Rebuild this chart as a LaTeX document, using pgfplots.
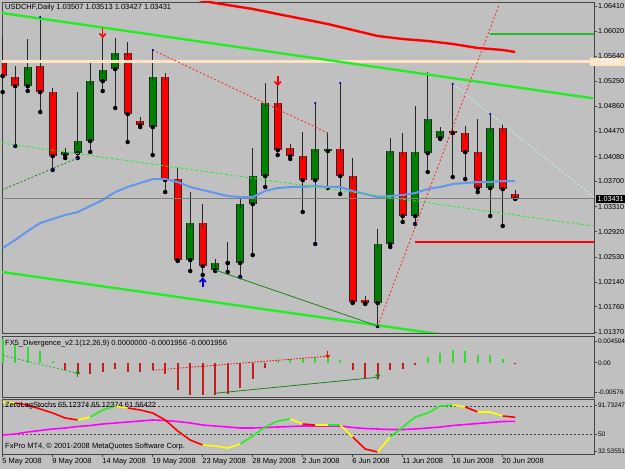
\documentclass[border=0pt]{standalone}
\usepackage{fontspec}
\setmainfont{Liberation Sans}
\usepackage{pgfplots}
\usepackage{pgfplotstable}
\pgfplotsset{compat=1.18}

\definecolor{bg}{RGB}{192,192,192}
\definecolor{cred}{RGB}{255,0,0}
\definecolor{cgreen}{RGB}{0,128,0}
\definecolor{limeg}{RGB}{40,235,40}
\definecolor{bisq}{RGB}{255,228,196}
\definecolor{maline}{RGB}{100,150,237}
\definecolor{histg}{RGB}{50,220,50}
\definecolor{histr}{RGB}{195,30,30}
\definecolor{zyel}{RGB}{255,255,0}
\definecolor{zred}{RGB}{255,0,0}
\definecolor{zgrn}{RGB}{40,235,40}
\definecolor{zmag}{RGB}{255,0,255}
\definecolor{pcyan}{RGB}{185,255,255}
\definecolor{dgreen}{RGB}{30,130,30}
\definecolor{frame}{RGB}{70,70,70}
\definecolor{curgray}{RGB}{128,128,128}

\pgfdeclareplotmark{dnarrow}{%
  \pgfsetlinewidth{0.35\pgfplotmarksize}%
  \pgfpathmoveto{\pgfpoint{0pt}{\pgfplotmarksize}}%
  \pgfpathlineto{\pgfpoint{0pt}{-0.6\pgfplotmarksize}}%
  \pgfusepathqstroke
  \pgfpathmoveto{\pgfpoint{-0.7\pgfplotmarksize}{-0.2\pgfplotmarksize}}%
  \pgfpathlineto{\pgfpoint{0pt}{-\pgfplotmarksize}}%
  \pgfpathlineto{\pgfpoint{0.7\pgfplotmarksize}{-0.2\pgfplotmarksize}}%
  \pgfusepathqstroke
}
\pgfdeclareplotmark{uparrow}{%
  \pgfsetlinewidth{0.35\pgfplotmarksize}%
  \pgfpathmoveto{\pgfpoint{0pt}{-\pgfplotmarksize}}%
  \pgfpathlineto{\pgfpoint{0pt}{0.6\pgfplotmarksize}}%
  \pgfusepathqstroke
  \pgfpathmoveto{\pgfpoint{-0.7\pgfplotmarksize}{0.2\pgfplotmarksize}}%
  \pgfpathlineto{\pgfpoint{0pt}{\pgfplotmarksize}}%
  \pgfpathlineto{\pgfpoint{0.7\pgfplotmarksize}{0.2\pgfplotmarksize}}%
  \pgfusepathqstroke
}

% red (bearish) candles: index, open, high, low, close
\pgfplotstableread{
i o h l c
0 1.05529 1.05931 1.05080 1.05328
1 1.05312 1.05482 1.04246 1.05173
3 1.05482 1.06240 1.04771 1.05080
4 1.05080 1.05142 1.03875 1.04091
10 1.05683 1.05853 1.04307 1.04740
11 1.04632 1.04648 1.04539 1.04570
13 1.05312 1.05343 1.03534 1.03720
14 1.03735 1.03905 1.02468 1.02483
16 1.03055 1.03349 1.02251 1.02390
22 1.04910 1.05235 1.04106 1.04184
23 1.04215 1.04230 1.04045 1.04091
24 1.04091 1.04462 1.03225 1.03720
27 1.04199 1.05220 1.03504 1.03782
28 1.03782 1.04060 1.01818 1.01834
29 1.01865 1.01880 1.01803 1.01818
32 1.04153 1.04447 1.03071 1.03163
36 1.04477 1.05204 1.03766 1.04447
37 1.04447 1.04555 1.03735 1.04153
38 1.04153 1.04663 1.03534 1.03596
40 1.04524 1.04539 1.03009 1.03581
41 1.03507 1.03513 1.03427 1.03431
}\redc

% green (bullish) candles
\pgfplotstableread{
i o h l c
2 1.05173 1.05900 1.05096 1.05467
5 1.04106 1.04184 1.04060 1.04153
6 1.04137 1.05080 1.04060 1.04323
7 1.04323 1.05544 1.04153 1.05250
8 1.05250 1.05931 1.05096 1.05421
9 1.05436 1.05915 1.04833 1.05683
12 1.04539 1.05730 1.04106 1.05312
15 1.02483 1.03534 1.02313 1.03055
17 1.02329 1.02452 1.02313 1.02437
18 1.02437 1.02761 1.02298 1.02437
19 1.02437 1.03457 1.02220 1.03349
20 1.03349 1.04215 1.02560 1.03782
21 1.03782 1.05220 1.03612 1.04910
25 1.03720 1.04910 1.02731 1.04199
26 1.04168 1.04447 1.03596 1.04199
30 1.01818 1.02962 1.01463 1.02731
31 1.02731 1.04369 1.02684 1.04168
33 1.03163 1.04864 1.03040 1.04153
34 1.04137 1.05390 1.03844 1.04663
35 1.04369 1.04524 1.04354 1.04477
39 1.03596 1.04740 1.03163 1.04524
}\grnc

\newcommand{\lbl}{\fontsize{7.2}{8}\selectfont}
\newcommand{\lbs}{\fontsize{6.5}{8}\selectfont}

\pgfplotsset{
  mt4/.style={
    scale only axis, width=592pt, xmin=-0.056, xmax=47.30,
    anchor=south west,
    axis line style={draw=frame, line width=0.8pt},
    tick style={draw=frame, line width=0.6pt},
    tick align=outside, major tick length=3pt,
    ytick pos=right, yticklabel pos=right,
    scaled y ticks=false,
    ticklabel style={font=\lbl, text=black},
    yticklabel style={anchor=west, inner sep=0.8pt},
    clip mode=individual,
  },
  wick/.style={only marks, mark=none, forget plot,
    error bars/.cd, y dir=plus, y explicit, error mark=none,
    error bar style={draw=black!85, line width=1pt, solid}},
  bodyframe/.style={only marks, mark=none, forget plot,
    error bars/.cd, y dir=plus, y explicit, error mark=none,
    error bar style={draw=black!85, line width=8pt, solid}},
  bodyfill/.style={only marks, mark=none, forget plot,
    error bars/.cd, y dir=plus, y explicit, error mark=-,
    error mark options={draw=black!85, mark size=4pt, line width=1pt, solid},
    error bar style={draw=#1, line width=6pt, solid}},
}

\begin{document}
\begin{tikzpicture}
\fill[bg] (0pt,0pt) rectangle (625pt,469pt);
\path[use as bounding box] (0pt,0pt) rectangle (625pt,469pt);

% ================= main price panel =================
\begin{axis}[mt4, at={(2pt,136pt)}, height=331pt,
  ymin=1.01355, ymax=1.06472, xtick=\empty,
  ytick={1.0137,1.0176,1.0214,1.0253,1.0292,1.0331,1.0370,1.0408,1.0447,1.0486,1.0525,1.0564,1.0602,1.0641},
  yticklabels={1.01370,1.01760,1.02140,1.02530,1.02920,1.03310,1.03700,1.04080,1.04470,1.04860,1.05250,1.05640,1.06020,1.06410}]

% candles
\addplot[wick] table[x=i, y=l, y error plus expr=\thisrow{h}-\thisrow{l}] {\redc};
\addplot[wick] table[x=i, y=l, y error plus expr=\thisrow{h}-\thisrow{l}] {\grnc};
\addplot[bodyframe] table[x=i, y=c, y error plus expr=\thisrow{o}-\thisrow{c}] {\redc};
\addplot[bodyframe] table[x=i, y=o, y error plus expr=\thisrow{c}-\thisrow{o}] {\grnc};
\addplot[bodyfill=cred] table[x=i, y=c, y error plus expr=\thisrow{o}-\thisrow{c}] {\redc};
\addplot[bodyfill=cgreen] table[x=i, y=o, y error plus expr=\thisrow{c}-\thisrow{o}] {\grnc};

% moving averages
\addplot[maline, line width=2pt, mark=none] coordinates {
(0,1.02669) (1,1.02792) (2,1.02931) (3,1.03055) (4,1.03117) (5,1.03179) (6,1.03225)
(7,1.03318) (8,1.03411) (9,1.03534) (10,1.03612) (11,1.03674) (12,1.03735) (13,1.03735)
(14,1.03689) (15,1.03612) (16,1.03565) (17,1.03519) (18,1.03473) (19,1.03457) (20,1.03457)
(21,1.03550) (22,1.03596) (23,1.03612) (24,1.03612) (25,1.03627) (26,1.03612) (27,1.03612)
(28,1.03550) (29,1.03504) (30,1.03457) (31,1.03473) (32,1.03488) (33,1.03519) (34,1.03581)
(35,1.03612) (36,1.03658) (37,1.03674) (38,1.03689) (39,1.03689) (40,1.03704) (41,1.03704)};
\addplot[cred, line width=2.4pt, mark=none] coordinates {
(15,1.06549) (16,1.06487) (18,1.06425) (20,1.06364) (22,1.06286) (24,1.06209) (26,1.06132)
(28,1.06039) (30,1.05946) (32,1.05900) (34,1.05869) (36,1.05823) (38,1.05761) (40,1.05730) (41,1.05699)};

% horizontal lines
\addplot[bisq, line width=3pt, mark=none] coordinates {(-1,1.05546) (48,1.05546)};
\addplot[curgray, line width=0.8pt, mark=none] coordinates {(-1,1.03431) (48,1.03431)};
\addplot[limeg!80!black, line width=1.2pt, mark=none] coordinates {(39.0,1.05977) (48,1.05977)};
\addplot[cred, line width=1.6pt, mark=none] coordinates {(33.0,1.02761) (48,1.02761)};

% channel
\addplot[limeg, line width=2.4pt, mark=none] coordinates {(-0.06,1.06302) (47.22,1.04983)};
\addplot[limeg, line width=2.4pt, mark=none] coordinates {(-0.06,1.02298) (47.30,1.00999)};
\addplot[limeg, line width=0.8pt, dash pattern=on 3pt off 2pt, mark=none] coordinates {(-0.06,1.04292) (47.22,1.03009)};

% trend lines
\addplot[dgreen, line width=0.8pt, dash pattern=on 2pt off 2pt, mark=none] coordinates {(-0.06,1.03566) (6,1.04060)};
\addplot[dgreen, line width=0.8pt, mark=none] coordinates {(17,1.02329) (30,1.01463)};
\addplot[cred!85!white, line width=0.8pt, dash pattern=on 2pt off 2pt, mark=none] coordinates {(12,1.05730) (26,1.04447)};
\addplot[cred!85!white, line width=0.8pt, dash pattern=on 2pt off 2pt, mark=none] coordinates {(30,1.01463) (39.7,1.06425)};
\addplot[pcyan, line width=0.8pt, dash pattern=on 1.5pt off 2.5pt, mark=none] coordinates {(36,1.05204) (47.30,1.03457)};

% fractal dots
\addplot[only marks, mark=*, mark size=0.9pt, blue!80!black] coordinates {
(1,1.04246) (3,1.06240) (4,1.03875) (6,1.04060) (12,1.05730) (19,1.02220) (25,1.04910)
(25,1.02731) (27,1.05220) (33,1.03040) (36,1.05204) (39,1.04740) (30,1.01463)};

% signal arrows
\addplot[only marks, mark=dnarrow, mark size=4.5pt, cred] coordinates {(8,1.06000) (22,1.05258)};
\addplot[only marks, mark=uparrow, mark size=4.5pt, blue!85!black] coordinates {(16,1.02128)};

\node[anchor=west, inner sep=0pt, font=\fontsize{7.5}{8}\selectfont] at (rel axis cs:0,1) [xshift=3pt, yshift=-5.5pt] {USDCHF,Daily 1.03507 1.03513 1.03427 1.03431};
\coordinate (pcur) at (axis cs:47.30,1.03431);
\coordinate (pbis) at (axis cs:47.30,1.05546);
\end{axis}
\node[fill=black, text=white, anchor=west, inner sep=0.6pt, minimum height=8pt, minimum width=30pt, font=\lbl] at (pcur) [xshift=1.5pt] {1.03431};
\node[fill=bisq, text=white, anchor=west, inner sep=0.6pt, minimum height=8pt, minimum width=35pt, font=\lbl] at (pbis) [xshift=-4pt] {1.05546};

% ================= FX5 divergence panel =================
\begin{axis}[mt4, at={(2pt,72pt)}, height=61pt,
  ymin=-0.00576, ymax=0.004504, xtick=\empty,
  yticklabel style={font=\lbs},
  ytick={0.00366,0,-0.00492}, yticklabels={0.004504,0.00,-0.00576}]
\addplot[ycomb, histg, line width=2.2pt, mark=none] coordinates {
(0,0.0040) (1,0.0031) (2,0.0027) (3,0.0019) (4,0.0003) (22,0.0003) (23,0.0006) (24,0.0008)
(25,0.0010) (26,0.0013) (27,0.0004) (34,0.0010) (35,0.0017) (36,0.0022) (37,0.0020)
(38,0.0013) (39,0.0013) (40,0.0006)};
\addplot[ycomb, histr, line width=2.2pt, mark=none] coordinates {
(5,-0.00115) (6,-0.0019) (7,-0.0019) (8,-0.0015) (9,-0.0010) (10,-0.0015) (11,-0.0015)
(12,-0.00115) (13,-0.0019) (14,-0.0045) (15,-0.0054) (16,-0.0054) (17,-0.0055) (18,-0.0052)
(19,-0.0043) (20,-0.0027) (21,-0.0008) (28,-0.0013) (29,-0.0026) (30,-0.0027) (31,-0.0013)
(32,-0.0010) (33,-0.0003) (41,-0.0002)};
\addplot[histg!80!black, line width=0.8pt, dash pattern=on 2pt off 2pt, mark=none] coordinates {(0,0.00126) (6,-0.0018)};
\addplot[cred, line width=0.8pt, dash pattern=on 1.5pt off 1.5pt, mark=none] coordinates {(12,-0.00126) (26,0.00109)};
\addplot[dgreen, line width=0.8pt, mark=none] coordinates {(17,-0.00513) (30,-0.00244)};
\addplot[only marks, mark=uparrow, mark size=3pt, dgreen] coordinates {(6,-0.0019) (30,-0.00235)};
\addplot[only marks, mark=dnarrow, mark size=3pt, cred] coordinates {(26,0.0014)};
\node[anchor=west, inner sep=0pt, font=\fontsize{7.5}{8}\selectfont] at (rel axis cs:0,1) [xshift=3pt, yshift=-8pt] {FX5\_Divergence\_v2.1(12,26,9) 0.0000000 -0.0001956 -0.0001956};
\end{axis}

% ================= ZeroLag stochastic panel =================
\begin{axis}[mt4, at={(2pt,15pt)}, height=55pt,
  ymin=32.49, ymax=81.42,
  xtick={0,4,...,40}, xtick pos=bottom,
  xticklabels={5 May 2008,9 May 2008,14 May 2008,19 May 2008,23 May 2008,28 May 2008,2 Jun 2008,6 Jun 2008,11 Jun 2008,16 Jun 2008,20 Jun 2008},
  xticklabel style={anchor=north west, inner sep=1pt, xshift=-1.5pt, font=\fontsize{7.5}{8}\selectfont},
  yticklabel style={font=\lbs},
  ytick={76.08,50,35.13}, yticklabels={91.73247,50,32.53551}]
\addplot[frame, line width=0.7pt, dash pattern=on 2pt off 2pt, mark=none] coordinates {(-1,75.2) (48,75.2)};
\addplot[frame, line width=0.7pt, dash pattern=on 2pt off 2pt, mark=none] coordinates {(-1,50) (48,50)};
\addplot[zmag, line width=1.6pt, mark=none] coordinates {
(0,49.38) (1,50.27) (2,52.05) (3,53.38) (4,54.72) (5,55.61) (6,56.94) (7,57.83) (8,59.17)
(9,60.06) (10,60.95) (11,61.84) (12,62.73) (13,62.28) (14,61.39) (15,60.06) (16,58.28)
(17,57.39) (18,56.50) (19,55.61) (20,55.61) (21,56.05) (22,56.50) (23,56.94) (24,57.39)
(25,57.39) (26,57.39) (27,57.39) (28,56.05) (29,55.16) (30,54.72) (31,54.27) (32,54.27)
(33,54.72) (34,55.61) (35,56.50) (36,57.83) (37,58.72) (38,59.61) (39,60.50) (40,61.39) (41,61.56)};
\addplot[zyel, line width=1.6pt, mark=none] coordinates {(0,78.75) (1,77.86)};
\addplot[zred, line width=1.6pt, mark=none] coordinates {(1,77.86) (2,76.08) (3,72.52) (4,68.96) (5,64.51) (6,62.73)};
\addplot[zyel, line width=1.6pt, mark=none] coordinates {(6,62.73) (7,65.40)};
\addplot[zgrn, line width=1.6pt, mark=none] coordinates {(7,65.40) (8,71.63) (9,75.19)};
\addplot[zyel, line width=1.6pt, mark=none] coordinates {(9,75.19) (10,73.41)};
\addplot[zred, line width=1.6pt, mark=none] coordinates {(10,73.41) (11,71.63) (12,68.96) (13,62.73) (14,52.94) (15,44.93) (16,40.48)};
\addplot[zyel, line width=1.6pt, mark=none] coordinates {(16,40.48) (17,39.59) (18,37.81) (19,41.37)};
\addplot[zgrn, line width=1.6pt, mark=none] coordinates {(19,41.37) (20,48.49) (21,56.50) (22,61.84) (23,63.62)};
\addplot[zyel, line width=1.6pt, mark=none] coordinates {(23,63.62) (24,59.17)};
\addplot[zred, line width=1.6pt, mark=none] coordinates {(24,59.17) (25,58.28)};
\addplot[zyel, line width=1.6pt, mark=none] coordinates {(25,58.28) (26,58.28)};
\addplot[zgrn, line width=1.6pt, mark=none] coordinates {(26,58.28) (27,58.28)};
\addplot[zyel, line width=1.6pt, mark=none] coordinates {(27,58.28) (28,47.60)};
\addplot[zred, line width=1.6pt, mark=none] coordinates {(28,47.60) (29,36.92) (30,34.25)};
\addplot[zyel, line width=1.6pt, mark=none] coordinates {(30,34.25) (31,47.60)};
\addplot[zgrn, line width=1.6pt, mark=none] coordinates {(31,47.60) (32,56.50) (33,65.40) (34,68.96) (35,75.19) (36,76.08)};
\addplot[zyel, line width=1.6pt, mark=none] coordinates {(36,76.08) (37,74.30)};
\addplot[zred, line width=1.6pt, mark=none] coordinates {(37,74.30) (38,69.85)};
\addplot[zyel, line width=1.6pt, mark=none] coordinates {(38,69.85) (39,69.85) (40,66.29)};
\addplot[zred, line width=1.6pt, mark=none] coordinates {(40,66.29) (41,65.12)};
\node[anchor=west, inner sep=0pt, font=\fontsize{7.5}{8}\selectfont] at (rel axis cs:0,1) [xshift=3pt, yshift=-7pt] {ZeroLagStochs 65.12374 65.12374 61.56422};
\node[anchor=west, inner sep=0pt, font=\fontsize{7.5}{8}\selectfont] at (rel axis cs:0,0) [xshift=3pt, yshift=7pt] {FxPro MT4, © 2001-2008 MetaQuotes Software Corp.};
\end{axis}
\end{tikzpicture}
\end{document}
